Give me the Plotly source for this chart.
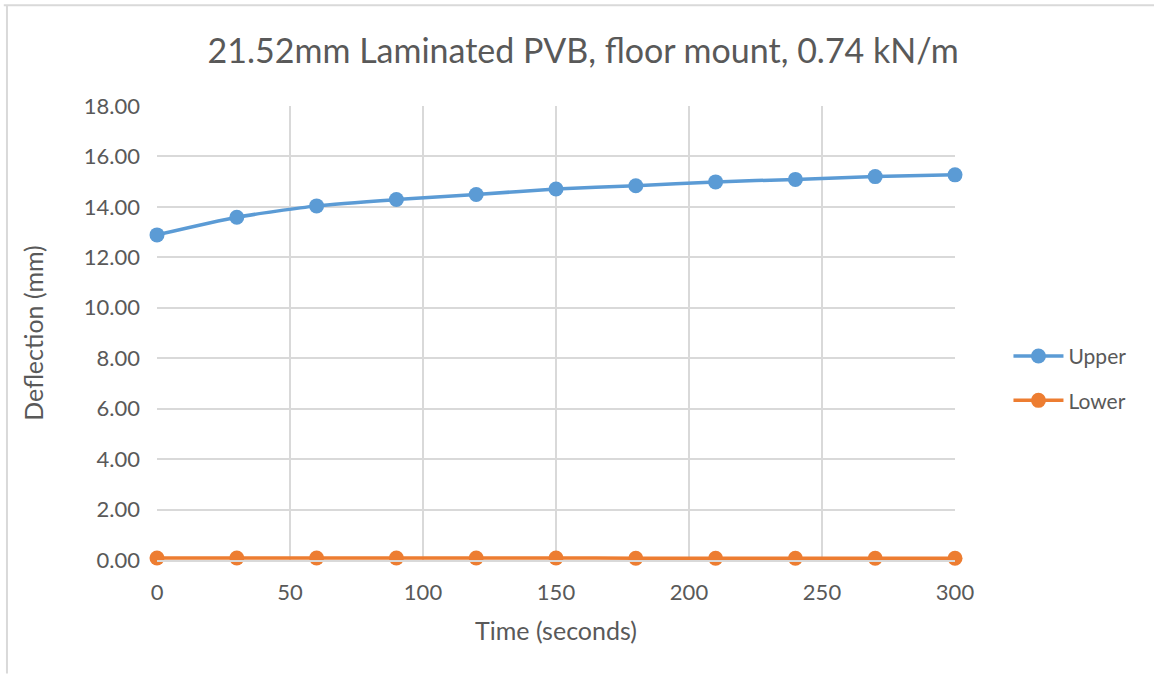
import plotly.graph_objects as go

time_s = [0, 30, 60, 90, 120, 150, 180, 210, 240, 270, 300]
upper = [12.89, 13.59, 14.04, 14.29, 14.49, 14.71, 14.84, 14.99, 15.09, 15.20, 15.27]
lower = [0.08, 0.08, 0.08, 0.08, 0.08, 0.08, 0.07, 0.07, 0.07, 0.07, 0.07]

y_ticks = [0, 2, 4, 6, 8, 10, 12, 14, 16, 18]
x_ticks = [0, 50, 100, 150, 200, 250, 300]

FONT = "Lato"
TXT = "#595959"
GRID = "#D9D9D9"

fig = go.Figure()
fig.add_trace(go.Scatter(x=time_s, y=upper, name="Upper", mode="lines+markers", legendgroup="u",
                         line=dict(color="#5B9BD5", width=3.5, shape="spline", smoothing=0.6),
                         marker=dict(size=15, color="#5B9BD5"), cliponaxis=False))
fig.add_trace(go.Scatter(x=time_s, y=lower, name="Lower", mode="lines+markers", legendgroup="l",
                         line=dict(color="#ED7D31", width=3.5, shape="spline", smoothing=0.6),
                         marker=dict(size=15, color="#ED7D31"), cliponaxis=False))

fig.update_layout(
    width=1154, height=675,
    paper_bgcolor="white", plot_bgcolor="white",
    margin=dict(l=157, r=199, t=106, b=115),
    font=dict(family=FONT, color=TXT, size=22),
    title=dict(text="21.52mm Laminated PVB, floor mount, 0.74 kN/m",
               x=0.534, xanchor="center", xref="paper", y=0.925, yanchor="middle",
               font=dict(family=FONT, size=34, color=TXT)),
    legend=dict(x=1.067, xanchor="left", y=0.40, yanchor="middle",
                font=dict(family=FONT, size=21, color=TXT),
                tracegroupgap=14, itemwidth=50, bgcolor="rgba(0,0,0,0)"),
    xaxis=dict(range=[0, 300], tickvals=x_ticks, showgrid=True, gridcolor=GRID, gridwidth=1.5,
               showline=True, linecolor=GRID, linewidth=1.5, zeroline=False,
               ticks="", ticklabelstandoff=12, tickfont=dict(size=22),
               title=dict(text="Time (seconds)", font=dict(family=FONT, size=25, color=TXT), standoff=18)),
    yaxis=dict(range=[0, 18], tickvals=y_ticks, tickformat=".2f", showgrid=True, gridcolor=GRID,
               gridwidth=1.5, showline=False, zeroline=False, ticks="", ticklabelstandoff=16,
               tickfont=dict(size=22),
               title=dict(text="Deflection (mm)", font=dict(family=FONT, size=25, color=TXT), standoff=33)),
    shapes=[
        dict(type="line", xref="paper", yref="paper", x0=-0.192, x1=1.25, y0=1.222, y1=1.222,
             line=dict(color="#D9D9D9", width=2)),
        dict(type="line", xref="paper", yref="paper", x0=-0.188, x1=-0.188, y0=1.222, y1=-0.25,
             line=dict(color="#D9D9D9", width=2)),
    ],
)

fig.write_html("out.html")
